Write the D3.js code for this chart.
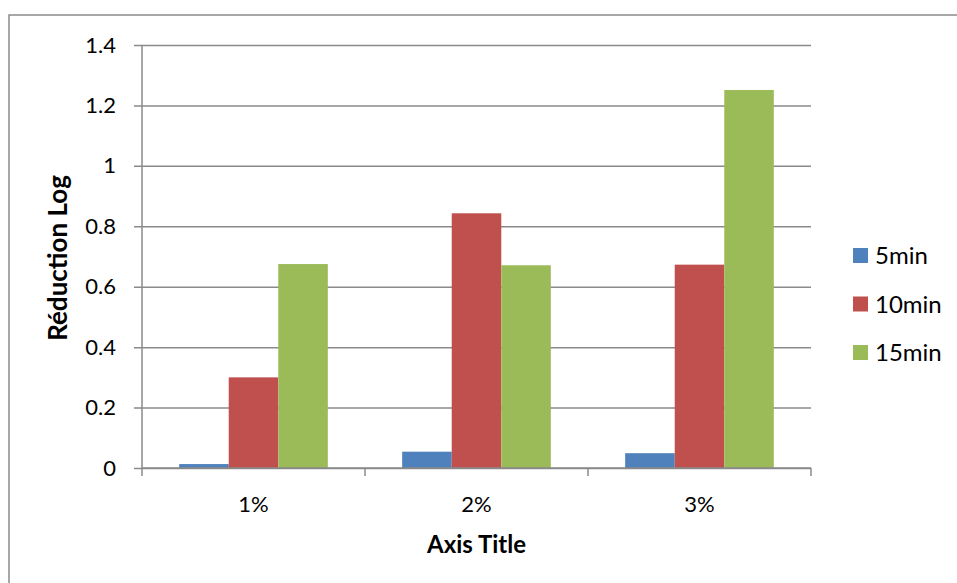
<!DOCTYPE html>
<html>
<head>
<meta charset="utf-8">
<script src="https://cdn.jsdelivr.net/npm/d3@7"></script>
<style>
    body { margin: 0; background: #fff; }
    svg text { font-family: Lato, "Open Sans", sans-serif; fill: #000; }
</style>
</head>
<body>
<div id="canvas"></div>
<script>
// chart data
var categories = ["1%", "2%", "3%"];
var seriesNames = ["5min", "10min", "15min"];
var values5 = [0.013, 0.054, 0.049];
var values10 = [0.300, 0.843, 0.673];
var values15 = [0.675, 0.671, 1.251];
var yTicks = [0, 0.2, 0.4, 0.6, 0.8, 1, 1.2, 1.4];

var colors = ["#4F81BD", "#C0504D", "#9BBB59"];
var seriesValues = [values5, values10, values15];

var width = 957, height = 583;
var plot = { left: 142, right: 811, top: 45, bottom: 468 };
var gridColor = "#8a8a8a";

var svg = d3.select("#canvas").append("svg")
    .attr("width", width)
    .attr("height", height);

// outer frame of the chart
svg.append("rect")
    .attr("x", 9).attr("y", 15)
    .attr("width", 970).attr("height", 600)
    .attr("fill", "none")
    .attr("stroke", gridColor)
    .attr("stroke-width", 1.5);

var x = d3.scaleBand()
    .domain(categories)
    .range([plot.left, plot.right]);

var xInner = d3.scaleBand()
    .domain(seriesNames)
    .range([0, x.bandwidth()])
    .paddingInner(0)
    .paddingOuter(0.75);

var y = d3.scaleLinear()
    .domain([0, 1.4])
    .range([plot.bottom, plot.top]);

// gridlines + y axis
var yAxis = d3.axisLeft(y)
    .tickValues(yTicks)
    .tickSize(-(plot.right - plot.left))
    .tickPadding(26)
    .tickFormat(function(d) { return d3.format("")(+d.toFixed(1)); });

var gy = svg.append("g")
    .attr("transform", "translate(" + plot.left + ",0)")
    .call(yAxis);
gy.select(".domain").remove();
gy.selectAll(".tick line")
    .attr("x1", -8)
    .attr("stroke", gridColor)
    .attr("stroke-width", 1.5);
gy.selectAll(".tick text")
    .attr("font-size", "22px")
    .attr("font-family", "Lato, sans-serif");

// bars
var rows = [];
categories.forEach(function(c, i) {
    seriesNames.forEach(function(s, j) {
        rows.push({ cat: c, series: s, value: seriesValues[j][i], color: colors[j] });
    });
});

svg.append("g").selectAll("rect")
    .data(rows)
    .enter()
    .append("rect")
    .attr("x", function(d) { return x(d.cat) + xInner(d.series); })
    .attr("y", function(d) { return y(d.value); })
    .attr("width", xInner.bandwidth())
    .attr("height", function(d) { return y(0) - y(d.value); })
    .attr("fill", function(d) { return d.color; });

// left axis line and x axis
svg.append("line")
    .attr("x1", plot.left).attr("x2", plot.left)
    .attr("y1", plot.top).attr("y2", plot.bottom + 8)
    .attr("stroke", gridColor).attr("stroke-width", 1.5);

var xAxis = d3.axisBottom(x).tickSize(0).tickPadding(28);
var gx = svg.append("g")
    .attr("transform", "translate(0," + plot.bottom + ")")
    .call(xAxis);
gx.select(".domain").remove();
gx.selectAll(".tick text")
    .attr("font-size", "22px")
    .attr("font-family", "Lato, sans-serif");

svg.append("line")
    .attr("x1", plot.left).attr("x2", plot.right)
    .attr("y1", plot.bottom).attr("y2", plot.bottom)
    .attr("stroke", gridColor).attr("stroke-width", 1.5);

// category separator ticks
svg.append("g").selectAll("line")
    .data(categories)
    .enter()
    .append("line")
    .attr("x1", function(d) { return x(d) + x.bandwidth(); })
    .attr("x2", function(d) { return x(d) + x.bandwidth(); })
    .attr("y1", plot.bottom)
    .attr("y2", plot.bottom + 8)
    .attr("stroke", gridColor).attr("stroke-width", 1.5);

// axis titles
svg.append("text")
    .attr("x", (plot.left + plot.right) / 2)
    .attr("y", 553)
    .attr("text-anchor", "middle")
    .attr("font-size", "24px")
    .attr("font-weight", "bold")
    .text("Axis Title");

svg.append("text")
    .attr("transform", "translate(67,258) rotate(-90)")
    .attr("text-anchor", "middle")
    .attr("font-size", "26px")
    .attr("font-weight", "bold")
    .text("Réduction Log");

// legend
var legend = svg.append("g").selectAll("g")
    .data(seriesNames)
    .enter()
    .append("g")
    .attr("transform", function(d, i) { return "translate(853," + (248 + i * 48.5) + ")"; });

legend.append("rect")
    .attr("width", 15).attr("height", 15)
    .attr("fill", function(d, i) { return colors[i]; });

legend.append("text")
    .attr("x", 22)
    .attr("y", 16)
    .attr("font-size", "24px")
    .text(function(d) { return d; });
</script>
</body>
</html>
